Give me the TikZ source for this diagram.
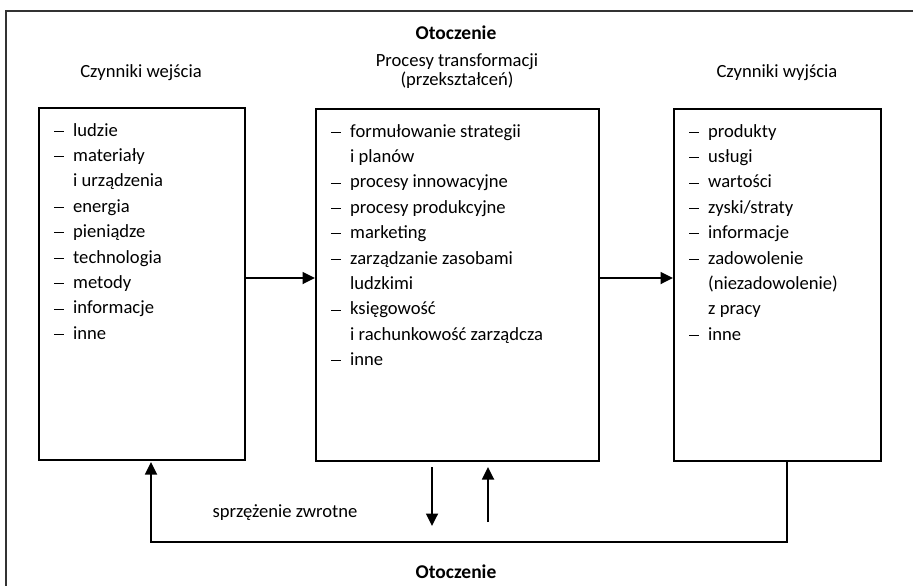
\documentclass[tikz,border=0pt]{standalone}
\usepackage{fontspec}
\setmainfont{Carlito}
\usetikzlibrary{arrows.meta}

\newcommand\bodyfont{\fontsize{18.6}{25.4}\selectfont}
% list bullet: a thin dash
\newcommand\itemdash{\rule[4.3pt]{10pt}{0.9pt}}

\begin{document}
\begin{tikzpicture}[x=1pt,y=-1pt,
  every node/.style={font=\bodyfont, inner sep=0pt},
  title/.style={font=\fontsize{18.6}{18.5}\selectfont},
  envlabel/.style={font=\fontsize{19.5}{20}\selectfont\bfseries},
  blockbox/.style={draw, line width=2pt, minimum height=352pt},
  itemlist/.style={anchor=base west, align=left},
  frame/.style={draw=black!80, line width=1.1pt},
  arr/.style={line width=1.8pt, -{Triangle[length=12.5pt,width=12pt]}}
]
\useasboundingbox (0,0) rectangle (913,586);
\clip (0,0) rectangle (913,586);

% surrounding environment frame, open to the right and bottom
\draw[frame] (6,600) -- (6,11) -- (930,11);

% the three blocks
\node[blockbox, minimum width=206pt] (in)  at (142,284) {};
\node[blockbox, minimum width=283pt] (mid) at (457.5,285) {};
\node[blockbox, minimum width=207pt] (out) at (777.5,285) {};

% headings
\node[envlabel] (envtop) at (456,33) {Otoczenie};
\node[title] (tin) at (141,73) {Czynniki wejścia};
\node[title, align=center] (tmid) at (457,71) {Procesy transformacji\\(przekształceń)};
\node[title] (tout) at (777,73) {Czynniki wyjścia};
\node[envlabel] (envbot) at (456,572) {Otoczenie};
\node (fb) at (285,513) {sprzężenie zwrotne};

% item lists
\node[itemlist] (lin) at ([xshift=16pt,yshift=-29pt]in.north west) {%
\begin{tabular}[t]{@{}p{19pt}@{}l@{}}
\itemdash & ludzie\\
\itemdash & materiały\\
          & i urządzenia\\
\itemdash & energia\\
\itemdash & pieniądze\\
\itemdash & technologia\\
\itemdash & metody\\
\itemdash & informacje\\
\itemdash & inne
\end{tabular}};

\node[itemlist] (lmid) at ([xshift=16pt,yshift=-29pt]mid.north west) {%
\begin{tabular}[t]{@{}p{19pt}@{}l@{}}
\itemdash & formułowanie strategii\\
          & i planów\\
\itemdash & procesy innowacyjne\\
\itemdash & procesy produkcyjne\\
\itemdash & marketing\\
\itemdash & zarządzanie zasobami\\
          & ludzkimi\\
\itemdash & księgowość\\
          & i rachunkowość zarządcza\\
\itemdash & inne
\end{tabular}};

\node[itemlist] (lout) at ([xshift=16pt,yshift=-29pt]out.north west) {%
\begin{tabular}[t]{@{}p{19pt}@{}l@{}}
\itemdash & produkty\\
\itemdash & usługi\\
\itemdash & wartości\\
\itemdash & zyski/straty\\
\itemdash & informacje\\
\itemdash & zadowolenie\\
          & (niezadowolenie)\\
          & z pracy\\
\itemdash & inne
\end{tabular}};

% forward flow
\draw[arr] ([yshift=6pt]in.east) -- ([yshift=6pt]in.east -| mid.west);
\draw[arr] ([yshift=7pt]mid.east) -- ([yshift=7pt]out.west);

% feedback loop from outputs back to inputs
\draw[arr] ([xshift=9.5pt]out.south) -- ++(0,80) -| ([xshift=9pt,yshift=-1pt]in.south);

% exchange between the transformation block and its environment
\coordinate (downend) at (432,526);
\coordinate (upstart) at (488,522);
\draw[arr] ([xshift=-25.5pt,yshift=-5pt]mid.south) -- (downend);
\draw[arr] (upstart) -- ([xshift=30.5pt,yshift=-5pt]mid.south);
\end{tikzpicture}
\end{document}
